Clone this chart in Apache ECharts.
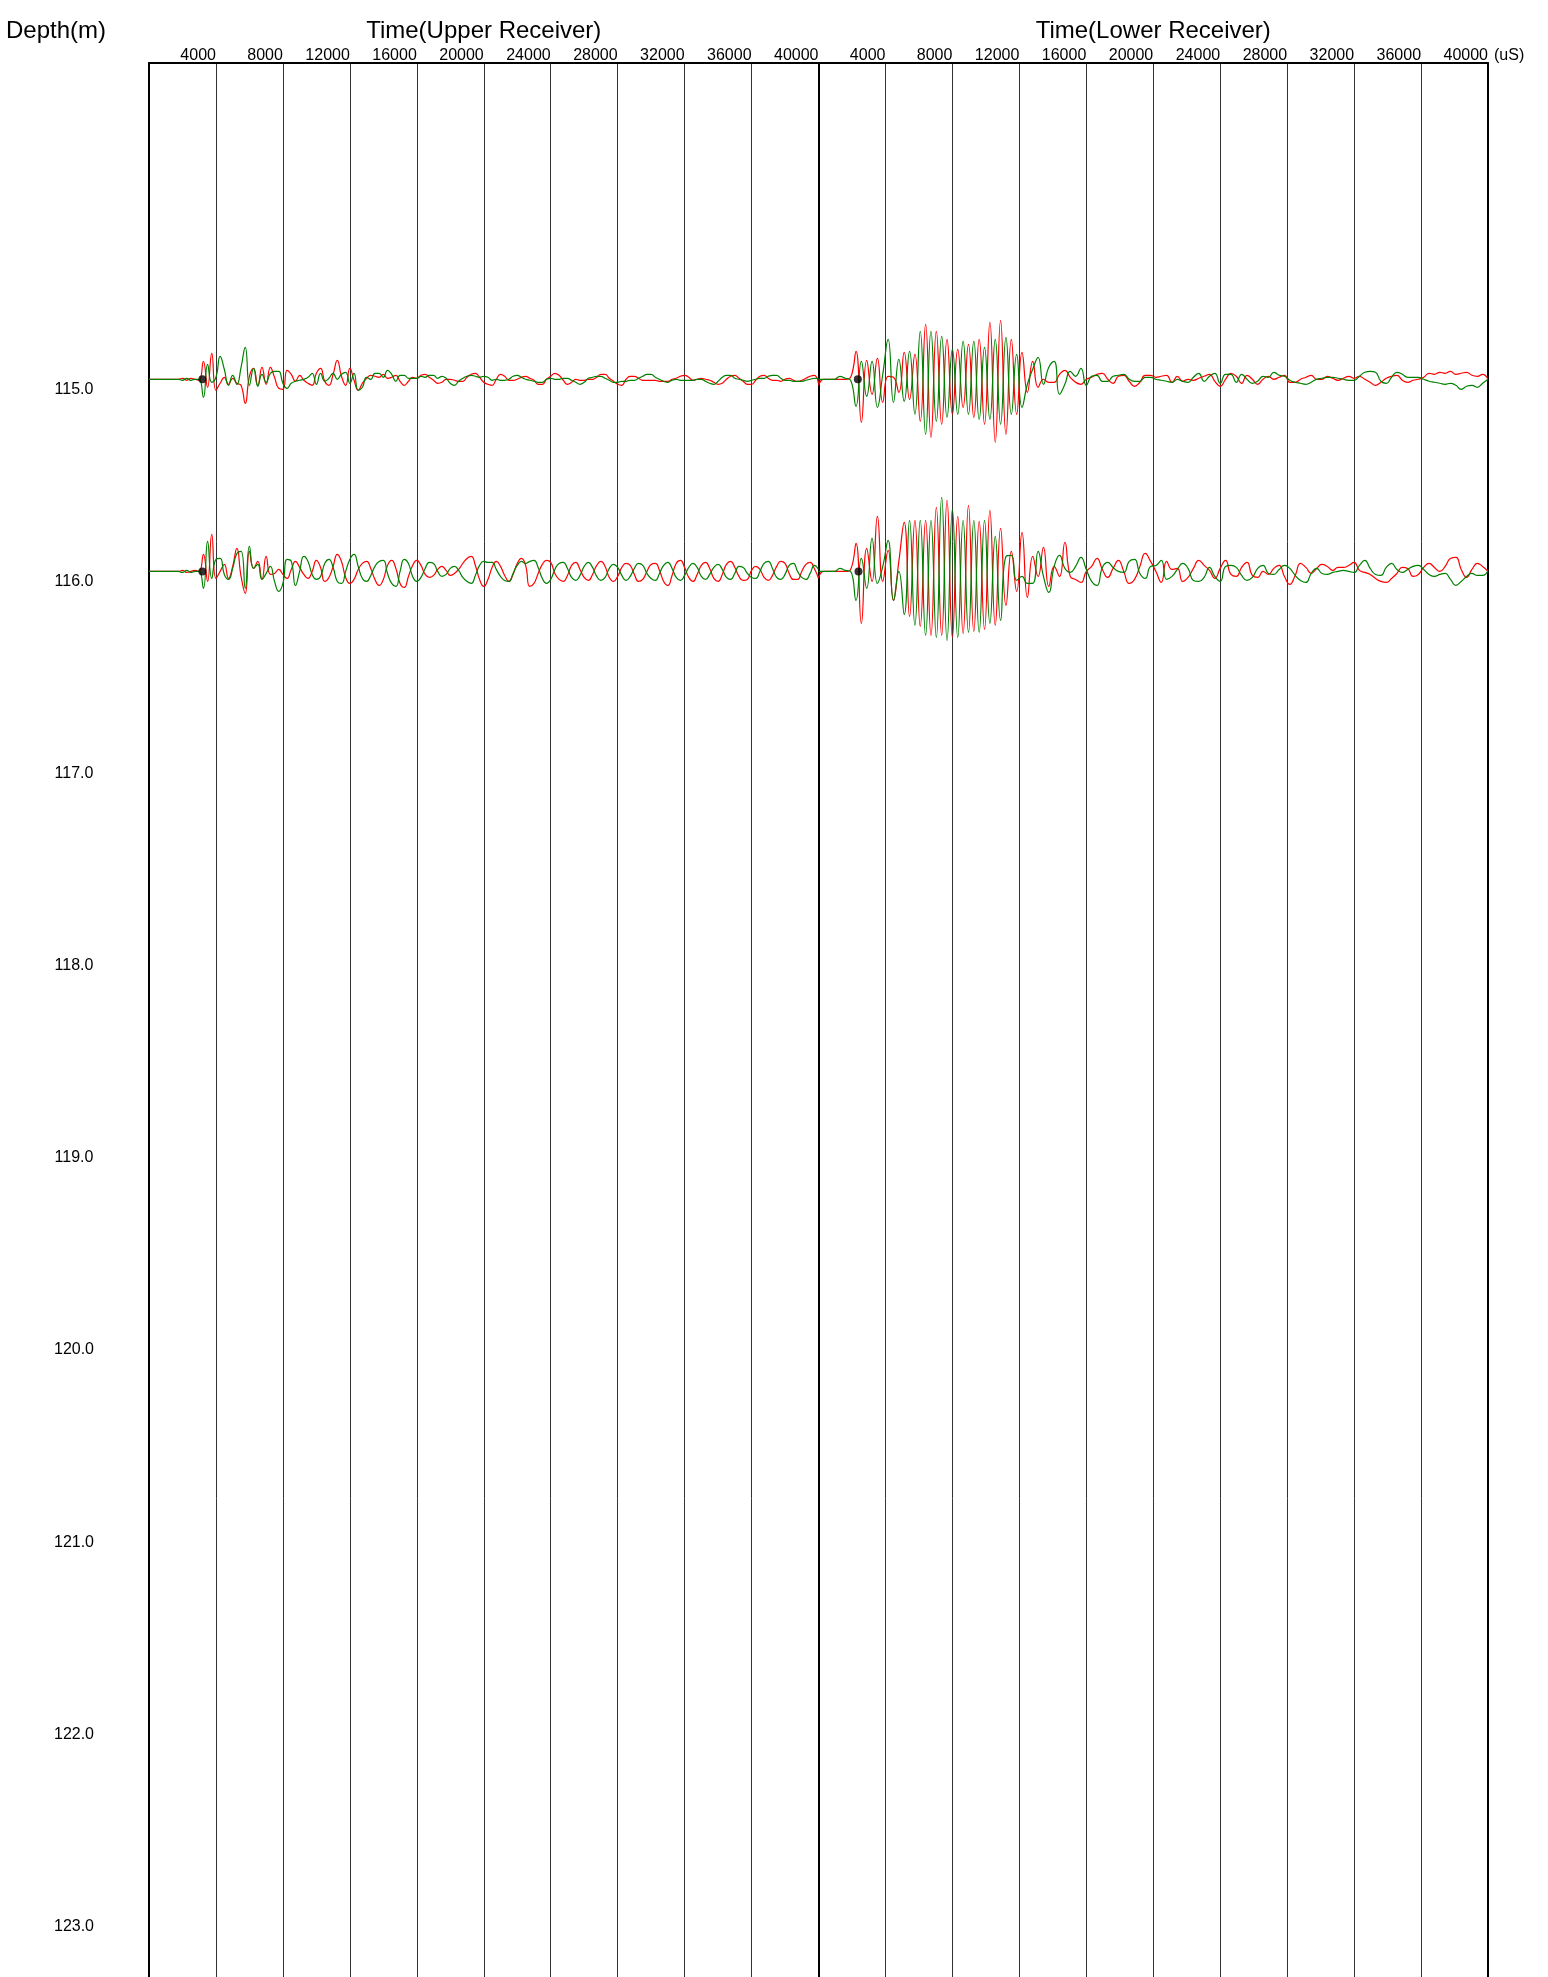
<!DOCTYPE html>
<html>
<head>
<meta charset="utf-8">
<script src="https://cdn.jsdelivr.net/npm/echarts@6/dist/echarts.min.js"></script>
<style>html,body{margin:0;padding:0;background:#fff}#c{width:1548px;height:1977px}</style>
</head>
<body>
<div id="c"></div>
<script>
// ---------------- data ----------------
const depthTicks = [115, 116, 117, 118, 119, 120, 121, 122, 123];
const timeTicks = [4000, 8000, 12000, 16000, 20000, 24000, 28000, 32000, 36000, 40000];
const traceDepths = [115, 116];
const UPPER_DT = 250;   // sample interval (uS) of upper receiver waveforms
const LOWER_DT = 320;   // sample interval (uS) of lower receiver waveforms
const upperFirstArrival = [3190, 3190];
const lowerFirstArrival = [2350, 2390];

// waveform amplitudes (positive = up)
const upper115Red = [
 0,0,0,0,0,0,0,0,1,-1,
 1,0,-1,18,-8,26,-11,-4,2,-5,
 1,-4,-6,-24,3,11,-6,12,-5,12,
 2,-9,-10,9,5,-2,4,-1,-4,-6,
 6,11,-2,-6,5,19,3,-6,11,-1,
 -11,-4,1,4,3,2,5,1,2,4,
 -2,-6,-2,2,1,4,5,2,-1,-4,
 -3,0,0,-1,-2,-2,2,5,6,2,
 -3,-5,-6,0,5,3,-1,-1,0,2,
 3,1,-1,-5,-5,0,3,6,4,-1,
 -5,-3,0,-1,-1,0,0,2,5,5,
 1,-2,-5,-6,0,3,3,1,-1,-1,
 -1,-1,-2,-2,-2,0,1,3,4,2,
 -1,0,1,0,-1,-3,-5,-4,0,3,
 4,1,-2,-5,-5,-1,3,4,1,-1,
 -1,-2,0,1,-1,-2,-1,1,3,4,
 -4];
const upper115Green = [
 0,0,0,0,0,0,0,0,-1,1,
 -1,0,0,-18,15,-3,2,23,10,-6,
 4,-5,12,32,-6,11,-7,5,-3,6,
 8,8,-4,-9,-4,-2,-1,0,2,6,
 -5,6,-2,1,6,0,5,7,-4,6,
 -11,-8,2,0,6,6,2,9,5,-2,
 4,4,1,1,1,3,2,4,4,1,
 3,1,-4,-6,-2,1,3,4,3,2,
 3,2,-1,0,-1,-1,0,3,4,2,
 0,-1,-2,-3,-3,0,1,0,0,1,
 1,-1,-3,-5,-3,1,2,3,3,1,
 -1,-3,-3,-2,-2,-1,-1,1,3,5,
 5,2,0,-2,-3,-1,0,-1,-1,-1,
 -1,0,0,-2,-4,-5,-2,2,4,4,
 1,0,-1,-2,-1,0,1,1,3,4,
 4,1,-1,-1,-2,-2,-2,-1,0,1,
 1];
const upper116Red = [
 0,0,0,0,0,0,0,0,1,-1,
 0,1,0,17,-10,37,-7,0,7,-7,
 5,23,-5,-22,20,3,10,-8,15,-3,
 -2,2,-3,-7,2,10,4,-3,-7,0,
 11,4,-10,-6,5,17,10,-6,-12,-8,
 2,8,10,3,-8,-14,-8,6,11,3,
 -12,-16,-5,6,11,6,-3,-6,-4,2,
 5,1,-4,-2,2,8,13,15,6,-8,
 -15,-8,4,10,5,-4,-10,-3,8,13,
 6,-15,-12,-2,7,11,9,-2,-8,-10,
 -4,6,9,2,-6,-9,-3,6,10,5,
 -6,-10,-5,4,8,6,-3,-10,-8,0,
 7,8,1,-10,-14,-4,8,11,4,-6,
 -10,-3,6,9,3,-7,-10,-3,7,10,
 4,-5,-9,-8,1,5,2,-6,-9,-4,
 5,10,8,-2,-8,-8,0,7,9,3,
 -7];
const upper116Green = [
 0,0,0,0,0,0,0,0,-1,1,
 -1,0,0,-17,30,-7,12,13,-3,-8,
 3,18,20,-17,25,3,7,-8,-2,5,
 -10,-20,-12,12,10,-14,0,15,10,-3,
 -8,-5,8,12,4,-10,-12,0,12,17,
 5,-7,-10,-4,5,10,11,-2,-12,-15,
 0,12,8,-5,-10,-6,3,9,8,0,
 -5,-3,3,5,1,-6,-10,-12,-4,6,
 10,9,9,2,-5,-9,-10,-2,6,10,
 8,10,11,4,-7,-12,-8,2,8,9,
 3,-6,-9,-4,5,9,4,-5,-9,-6,
 3,7,4,-4,-9,-5,3,8,6,-2,
 -7,-9,-2,6,9,3,-6,-9,-4,4,
 8,4,-5,-8,-3,4,7,2,-6,-8,
 -2,5,4,-2,-6,-7,0,8,10,3,
 -6,-8,-3,6,8,0,-6,-8,-2,6,
 2];
const lower115Red = [
 -6,0,0,0,0,0,2,28,-43,19,
 -15,21,-23,3,2,-13,27,-20,25,-42,
 55,-58,48,-45,40,-35,30,-28,35,-38,
 40,-45,57,-63,59,-55,40,-35,27,-13,
 18,-8,0,-3,-3,5,9,2,-3,-5,
 0,2,5,6,0,-4,3,4,-2,-7,
 -3,4,4,2,3,4,-3,3,-2,0,
 -1,1,3,5,-2,-7,0,6,3,-4,
 4,0,-5,0,3,0,2,4,-3,-3,
 0,2,4,0,0,3,1,-1,1,3,
 1,3,0,-3,-6,-3,1,3,4,-1,
 -3,-1,0,2,6,5,7,6,8,5,
 6,7,4,3,5,0];
const lower115Green = [
 0,0,0,0,3,1,-1,-27,18,-17,
 18,-28,5,40,-23,20,-22,28,-35,48,
 -55,48,-42,43,-38,30,-35,38,-35,38,
 -40,32,-40,40,-45,42,-35,25,-28,-5,
 10,22,-5,12,18,-15,-5,8,3,11,
 -6,3,4,-2,-2,3,4,5,0,-2,
 -2,2,2,0,-1,-2,-3,0,-2,-3,
 2,6,-2,3,6,-4,5,5,-3,5,
 0,-4,-2,3,2,7,4,3,-1,-3,
 -4,-5,-3,0,1,2,2,1,0,-1,
 -1,3,7,8,7,-2,-4,2,7,5,
 2,2,2,0,-2,-3,-4,-5,-4,-6,
 -10,-7,-6,-8,-4,0];
const lower116Red = [
 -6,0,0,0,0,0,2,28,-52,23,
 -10,55,-10,21,-29,10,49,-45,51,-55,
 51,-64,64,-64,71,-66,55,-62,66,-60,
 50,-58,61,-54,43,-34,20,-20,39,-26,
 15,-5,24,-15,5,-5,29,-5,-8,-11,
 0,5,13,2,-6,3,11,0,-12,-8,
 5,18,10,0,-11,10,2,3,-10,-6,
 3,11,6,1,-7,3,11,-3,-5,4,
 9,-4,-6,0,-3,3,6,-5,-13,-4,
 8,4,-2,3,7,5,1,4,4,6,
 9,1,-1,-3,-7,-10,-11,-7,-2,4,
 3,-5,-3,4,8,4,0,5,13,14,
 2,-6,2,8,5,0];
const lower116Green = [
 0,0,0,0,3,1,0,-29,13,-17,
 33,-12,5,31,-29,0,-43,51,-54,51,
 -64,51,-66,74,-69,62,-66,51,-61,51,
 -61,51,-52,35,-49,15,16,-9,-5,-12,
 -12,20,-5,-21,5,16,3,-1,5,14,
 2,-10,-14,4,9,4,0,-1,10,12,
 -2,-7,5,6,11,-8,-5,2,8,3,
 -9,-10,-6,4,-5,-10,5,6,4,-4,
 -9,-6,3,6,-2,-3,2,6,3,-4,
 -9,-11,-2,3,-2,-3,-1,0,1,0,
 -1,6,11,3,-3,-4,4,8,2,-1,
 2,5,6,2,-3,-5,-3,-2,-8,-14,
 -10,-5,-2,-4,-4,1];

// ---------------- chart ----------------
const FONT = '"Liberation Sans", Arial, Helvetica, sans-serif';
const DEPTH_MIN = 113.354, DEPTH_MAX = 123.315;
const AMP_TO_DEPTH = 1 / 192.15;
const RED = '#ff0000', GREEN = '#008000';

function traceData(amps, dt, depth) {
  return amps.map((a, i) => [i * dt, +(depth - a * AMP_TO_DEPTH).toFixed(5)]);
}

const panels = [
  { dt: UPPER_DT, arrivals: upperFirstArrival, red: [upper115Red, upper116Red], green: [upper115Green, upper116Green] },
  { dt: LOWER_DT, arrivals: lowerFirstArrival, red: [lower115Red, lower116Red], green: [lower115Green, lower116Green] }
];

const series = [];
panels.forEach((p, pi) => {
  traceDepths.forEach((d, di) => {
    series.push({
      type: 'line', xAxisIndex: pi, yAxisIndex: pi, smooth: 0.5, showSymbol: false, silent: true,
      data: traceData(p.red[di], p.dt, d), lineStyle: { color: RED, width: 1.2 }, z: 3
    });
  });
  traceDepths.forEach((d, di) => {
    series.push({
      type: 'line', xAxisIndex: pi, yAxisIndex: pi, smooth: 0.5, showSymbol: false, silent: true,
      data: traceData(p.green[di], p.dt, d), lineStyle: { color: GREEN, width: 1.2 }, z: 4
    });
  });
  series.push({
    type: 'scatter', xAxisIndex: pi, yAxisIndex: pi, symbolSize: 8, silent: true,
    itemStyle: { color: '#000' }, z: 6,
    data: traceDepths.map((d, di) => [p.arrivals[di], d])
  });
});

function xAxisFor(gridIndex, title) {
  return {
    type: 'value', gridIndex, position: 'top', min: 0, max: timeTicks[timeTicks.length - 1], interval: timeTicks[0],
    name: title, nameLocation: 'middle', nameGap: 18,
    nameTextStyle: { fontSize: 24, color: '#000', fontFamily: FONT },
    axisLine: { show: true, onZero: false, lineStyle: { color: '#000', width: 2 } },
    axisTick: { show: false },
    axisLabel: { show: true, showMinLabel: false, formatter: v => String(v), align: 'right', margin: -1,
      fontSize: 16, color: '#000', fontFamily: FONT },
    splitLine: { show: true, lineStyle: { color: '#333', width: 1 } }
  };
}

function yAxisFor(gridIndex, showLabels, position) {
  return {
    type: 'value', gridIndex, inverse: true, min: DEPTH_MIN, max: DEPTH_MAX, position: position || 'left',
    axisLine: { show: true, onZero: false, lineStyle: { color: '#000', width: 2 } },
    axisTick: { show: false },
    axisLabel: showLabels ? {
      show: true, customValues: depthTicks, formatter: v => Number(v).toFixed(1),
      margin: 75, align: 'center', verticalAlign: 'top', lineHeight: 20,
      fontSize: 16, color: '#000', fontFamily: FONT
    } : { show: false },
    splitLine: { show: false }
  };
}

const option = {
  animation: false,
  backgroundColor: '#fff',
  textStyle: { fontFamily: FONT },
  title: [
    { text: 'Depth(m)', left: 6, top: 19, padding: 0,
      textStyle: { fontSize: 24, fontWeight: 'normal', color: '#000', fontFamily: FONT } },
    { text: '(uS)', left: 1494, top: 48, padding: 0,
      textStyle: { fontSize: 16, fontWeight: 'normal', color: '#000', fontFamily: FONT } }
  ],
  grid: [
    { left: 149, top: 63, width: 669.5, bottom: 0, outerBoundsMode: 'none' },
    { left: 818.5, top: 63, width: 669.5, bottom: 0, outerBoundsMode: 'none' }
  ],
  xAxis: [xAxisFor(0, 'Time(Upper Receiver)'), xAxisFor(1, 'Time(Lower Receiver)')],
  yAxis: [yAxisFor(0, true), yAxisFor(1, false), yAxisFor(1, false, 'right')],
  series
};

const chart = echarts.init(document.getElementById('c'), null, { renderer: 'canvas', width: 1548, height: 1977 });
chart.setOption(option);
</script>
</body>
</html>
